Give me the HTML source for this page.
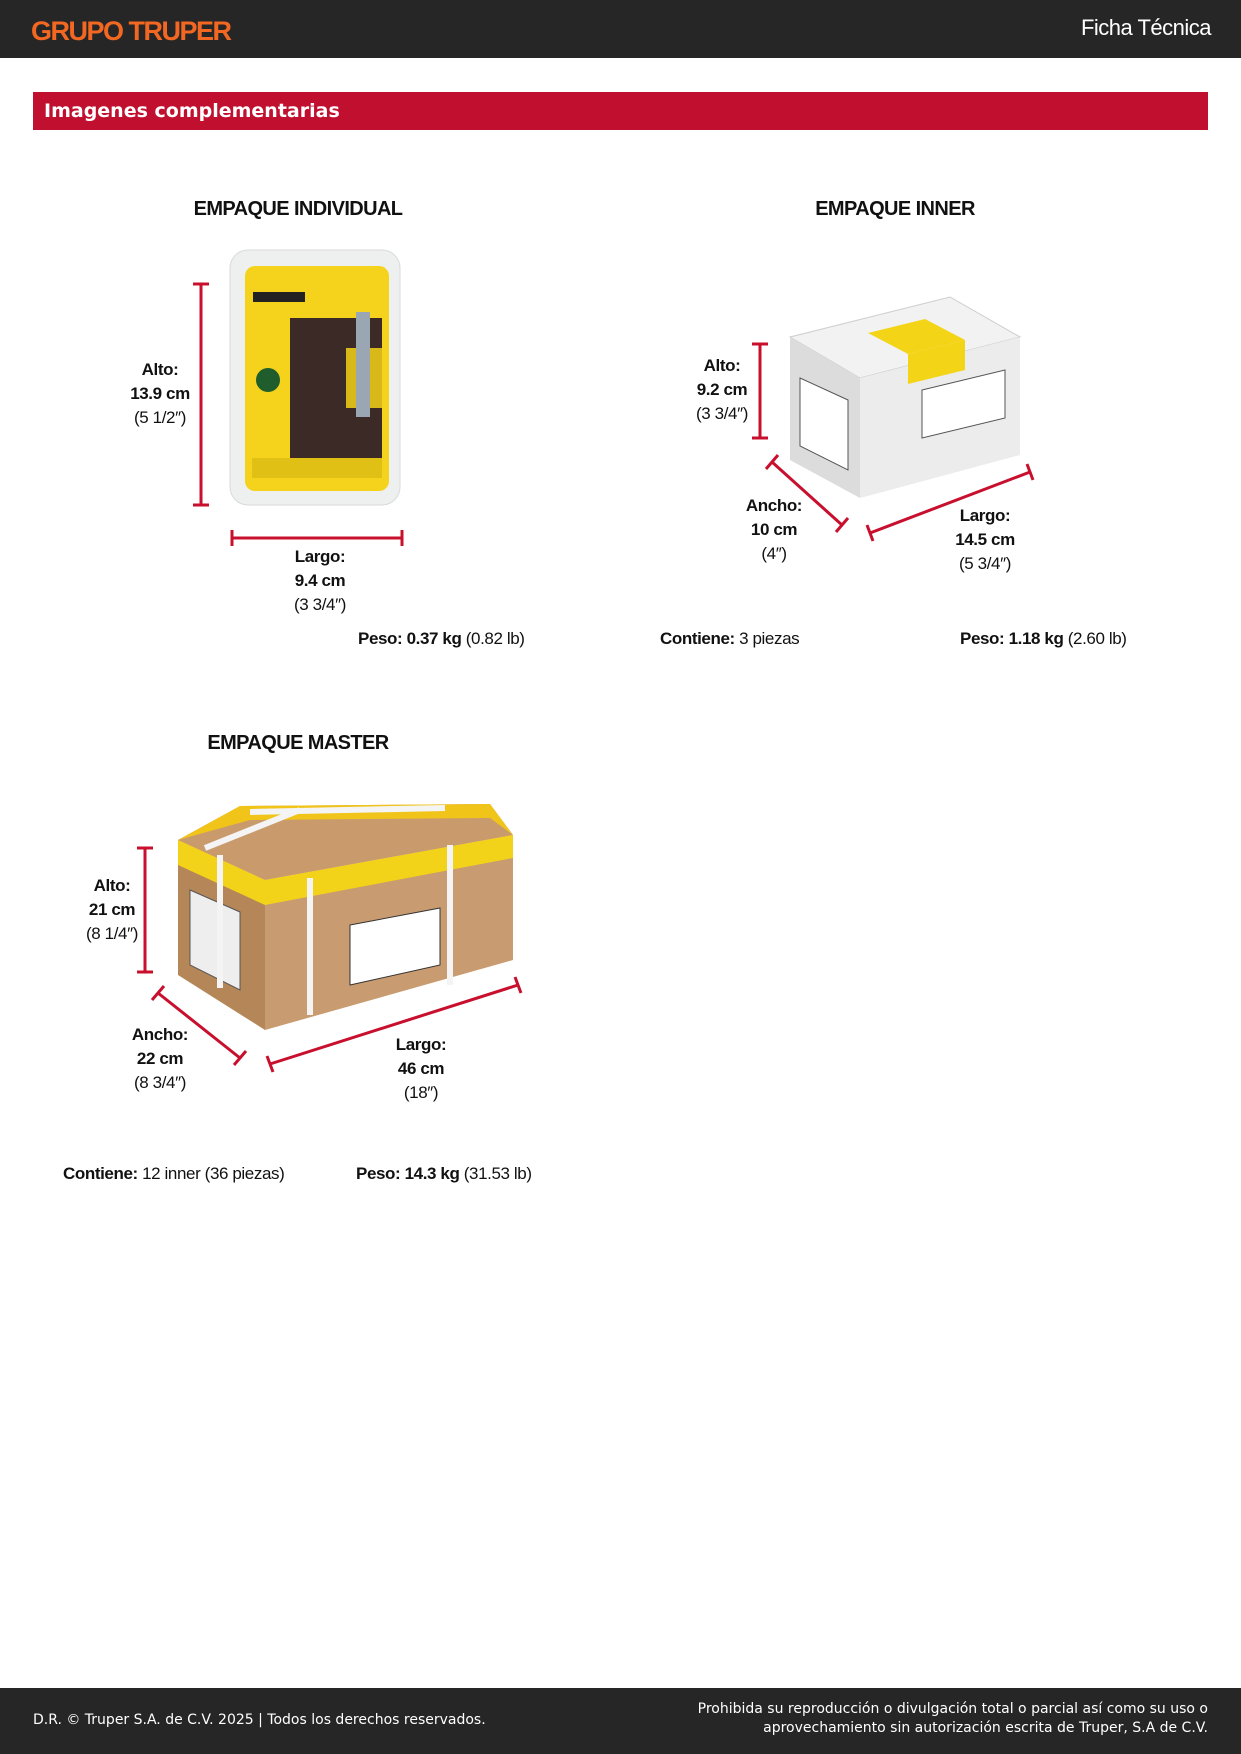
<!DOCTYPE html>
<html><head><meta charset="utf-8"><style>
*{margin:0;padding:0;box-sizing:border-box}
body{width:1241px;height:1754px;position:relative;background:#fff;font-family:"Liberation Sans",sans-serif;color:#111;overflow:hidden}
.a{position:absolute}
.t{position:absolute;font-weight:bold;font-size:20px;letter-spacing:-0.6px;text-align:center}
.l{position:absolute;text-align:center;font-size:17px;line-height:24px;letter-spacing:-0.4px}
.l b{font-weight:bold}
.p{position:absolute;font-size:17px;white-space:nowrap;letter-spacing:-0.4px}
</style></head><body>
<div class="a" style="left:0;top:0;width:1241px;height:58px;background:#262626"></div>
<div class="a" style="left:31px;top:16px;font-weight:bold;font-size:27px;color:#f26722;letter-spacing:-1.5px">GRUPO TRUPER</div>
<div class="a" style="right:30px;top:15px;font-size:22px;color:#fff;letter-spacing:-0.5px">Ficha Técnica</div>
<div class="a" style="left:33px;top:92px;width:1175px;height:38px;background:#c1102f"></div>
<div class="a" style="left:44px;top:100px;font-family:'DejaVu Sans',sans-serif;font-weight:bold;font-size:19px;color:#fff">Imagenes complementarias</div>

<div class="t" style="left:148px;top:198px;width:300px">EMPAQUE INDIVIDUAL</div>
<div class="t" style="left:745px;top:198px;width:300px">EMPAQUE INNER</div>
<div class="t" style="left:148px;top:732px;width:300px">EMPAQUE MASTER</div>

<svg class="a" style="left:0;top:0" width="1241" height="1754">
<g stroke="#c8102e" stroke-width="3" fill="none">
<path d="M201 284V505M193 284H209M193 505H209"/>
<path d="M232 538H402M232 530V546M402 530V546"/>
<path d="M760 344V438M752 344H768M752 438H768"/>
<path d="M772 462L842 525M766 469L778 455M836 532L848 518"/>
<path d="M870 533L1030 472M867 525L873 541M1027 464L1033 480"/>
<path d="M145 848V972M137 848H153M137 972H153"/>
<path d="M158 993L240 1058M152 1000L164 986M234 1065L246 1051"/>
<path d="M270 1064L518 985M267 1056L273 1072M515 977L521 993"/>
</g>
<!-- blister -->
<rect x="230" y="250" width="170" height="255" rx="18" fill="#eef0f0" stroke="#d8dadb"/>
<rect x="245" y="266" width="144" height="225" rx="10" fill="#f5d21c"/>
<rect x="290" y="318" width="92" height="143" fill="#3b2a26"/>
<rect x="346" y="348" width="36" height="60" fill="#d9b91a"/>
<rect x="356" y="312" width="14" height="105" fill="#9aa7b3"/>
<rect x="253" y="292" width="52" height="10" fill="#222"/>
<circle cx="268" cy="380" r="12" fill="#1f5e2c"/>
<rect x="252" y="458" width="130" height="20" fill="#e0c015"/>
<!-- inner box -->
<polygon points="790,337 950,297 1020,337 860,378" fill="#f2f2f2" stroke="#ccc"/>
<polygon points="790,337 860,378 860,498 790,460" fill="#dcdcdc"/>
<polygon points="860,378 1020,337 1020,455 860,498" fill="#ececec"/>
<polygon points="868,333 925,319 965,340 908,354" fill="#f3d416"/>
<polygon points="908,354 965,340 965,370 908,384" fill="#f3d416"/>
<polygon points="922,390 1005,370 1005,418 922,438" fill="#fff" stroke="#555"/>
<polygon points="800,378 848,400 848,470 800,446" fill="#fff" stroke="#555"/>
<!-- master box -->
<polygon points="178,840 265,880 513,835 490,804 240,806" fill="#c99a6c"/>
<polygon points="178,840 265,880 265,1030 178,975" fill="#b58758"/>
<polygon points="265,880 513,835 513,960 265,1030" fill="#c89b70"/>
<polygon points="178,840 265,880 513,835 513,858 265,905 178,865" fill="#f3d21a"/>
<polygon points="178,840 240,806 490,804 513,835 490,818 250,820" fill="#f0c419"/>
<polygon points="350,925 440,908 440,965 350,985" fill="#fff" stroke="#333"/>
<polygon points="190,890 240,912 240,990 190,965" fill="#eee" stroke="#555"/>
<g stroke="#f4f4f4" stroke-width="6" fill="none">
<path d="M205 848L300 810M310 878V1015M250 812L445 808M450 845V985M220 855V988"/>
</g>
</svg>

<div class="l" style="left:110px;top:358px;width:100px"><b>Alto:<br>13.9 cm</b><br>(5 1/2″)</div>
<div class="l" style="left:270px;top:545px;width:100px"><b>Largo:<br>9.4 cm</b><br>(3 3/4″)</div>
<div class="p" style="left:358px;top:629px"><b>Peso: 0.37 kg</b> (0.82 lb)</div>

<div class="l" style="left:672px;top:354px;width:100px"><b>Alto:<br>9.2 cm</b><br>(3 3/4″)</div>
<div class="l" style="left:724px;top:494px;width:100px"><b>Ancho:<br>10 cm</b><br>(4″)</div>
<div class="l" style="left:935px;top:504px;width:100px"><b>Largo:<br>14.5 cm</b><br>(5 3/4″)</div>
<div class="p" style="left:660px;top:629px"><b>Contiene:</b> 3 piezas</div>
<div class="p" style="left:960px;top:629px"><b>Peso: 1.18 kg</b> (2.60 lb)</div>

<div class="l" style="left:62px;top:874px;width:100px"><b>Alto:<br>21 cm</b><br>(8 1/4″)</div>
<div class="l" style="left:110px;top:1023px;width:100px"><b>Ancho:<br>22 cm</b><br>(8 3/4″)</div>
<div class="l" style="left:371px;top:1033px;width:100px"><b>Largo:<br>46 cm</b><br>(18″)</div>
<div class="p" style="left:63px;top:1164px"><b>Contiene:</b> 12 inner (36 piezas)</div>
<div class="p" style="left:356px;top:1164px"><b>Peso: 14.3 kg</b> (31.53 lb)</div>

<div class="a" style="left:0;top:1688px;width:1241px;height:66px;background:#262626"></div>
<div class="a" style="left:33px;top:1712px;font-family:'DejaVu Sans',sans-serif;font-size:14px;color:#fff">D.R. © Truper S.A. de C.V. 2025 | Todos los derechos reservados.</div>
<div class="a" style="right:33px;top:1700px;font-family:'DejaVu Sans',sans-serif;font-size:14px;color:#fff;text-align:right;line-height:19px">Prohibida su reproducción o divulgación total o parcial así como su uso o<br>aprovechamiento sin autorización escrita de Truper, S.A de C.V.</div>
</body></html>
